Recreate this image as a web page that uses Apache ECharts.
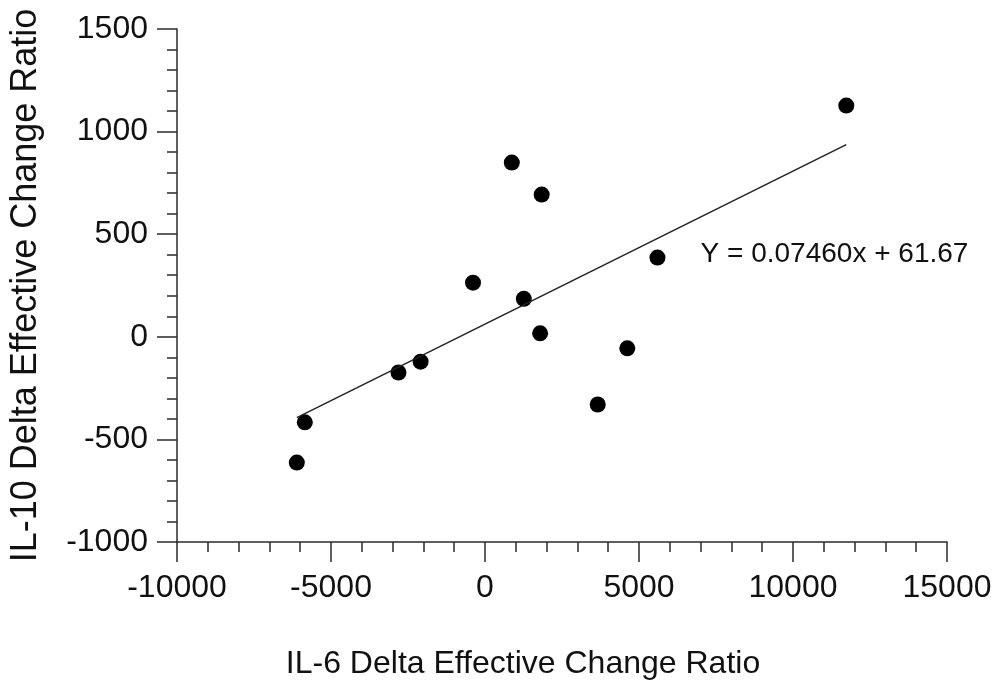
<!DOCTYPE html>
<html>
<head>
<meta charset="utf-8">
<script src="https://cdn.jsdelivr.net/npm/echarts@6/dist/echarts.min.js"></script>
<style>
  html, body { margin: 0; padding: 0; background: #fff; }
  #scatter-chart { width: 1000px; height: 688px; }
</style>
</head>
<body>
<div id="scatter-chart"></div>
<script>
// IL-6 vs IL-10 delta effective change ratio
var il6Delta  = [-6110, -5850, -2810, -2090, -390, 870, 1260, 1790, 1840, 3660, 4620, 5600, 11730];
var il10Delta = [-613, -417, -174, -121, 264, 849, 185, 17, 693, -330, -56, 386, 1127];

var slope = 0.07460;
var intercept = 61.67;
var equationText = 'Y = 0.07460x + 61.67';
var equationAnchor = [7000, 400];

var xTicks = { min: -10000, max: 15000, step: 5000 };
var yTicks = { min: -1000, max: 1500, step: 500 };

var points = il6Delta.map(function (x, i) { return [x, il10Delta[i]]; });
var xLo = Math.min.apply(null, il6Delta);
var xHi = Math.max.apply(null, il6Delta);
var fitLine = [[xLo, slope * xLo + intercept], [xHi, slope * xHi + intercept]];

var font = '"Liberation Sans", Arial, sans-serif';
var ink = '#2b2b2b';
var plain = function (v) { return String(v); };

var chart = echarts.init(document.getElementById('scatter-chart'));

var axisCommon = {
  type: 'value',
  axisLine: { show: true, onZero: false, lineStyle: { color: ink, width: 1.5 } },
  axisTick: { show: true, length: 20, lineStyle: { color: ink, width: 1.5 } },
  minorTick: { show: true, splitNumber: 5, length: 10, lineStyle: { color: ink, width: 1.5 } },
  splitLine: { show: false }
};

var option = {
  backgroundColor: '#ffffff',
  animation: false,
  grid: { left: 177, right: 53, top: 29, bottom: 146 },
  xAxis: Object.assign({}, axisCommon, {
    min: xTicks.min,
    max: xTicks.max,
    interval: xTicks.step,
    axisLabel: { color: '#111', fontSize: 32, fontFamily: font, margin: 30, formatter: plain },
    name: 'IL-6 Delta Effective Change Ratio',
    nameLocation: 'middle',
    nameGap: 106,
    nameTextStyle: { color: '#111', fontSize: 32, fontFamily: font, padding: [0, 78, 0, 0] }
  }),
  yAxis: Object.assign({}, axisCommon, {
    min: yTicks.min,
    max: yTicks.max,
    interval: yTicks.step,
    axisLabel: { color: '#111', fontSize: 32, fontFamily: font, margin: 29, formatter: plain },
    name: 'IL-10 Delta Effective Change Ratio',
    nameLocation: 'middle',
    nameGap: 133,
    nameTextStyle: { color: '#111', fontSize: 36, fontFamily: font }
  }),
  series: [
    {
      name: 'fit',
      type: 'line',
      data: fitLine,
      symbol: 'none',
      lineStyle: { color: '#222', width: 1.5 },
      silent: true,
      markPoint: {
        symbolSize: 0,
        data: [{ coord: equationAnchor }],
        label: {
          show: true,
          position: 'right',
          distance: 0,
          formatter: equationText,
          color: '#111',
          fontSize: 28,
          fontFamily: font
        }
      }
    },
    {
      name: 'samples',
      type: 'scatter',
      data: points,
      symbolSize: 16,
      itemStyle: { color: '#000', opacity: 1 }
    }
  ]
};

chart.setOption(option);
</script>
</body>
</html>
